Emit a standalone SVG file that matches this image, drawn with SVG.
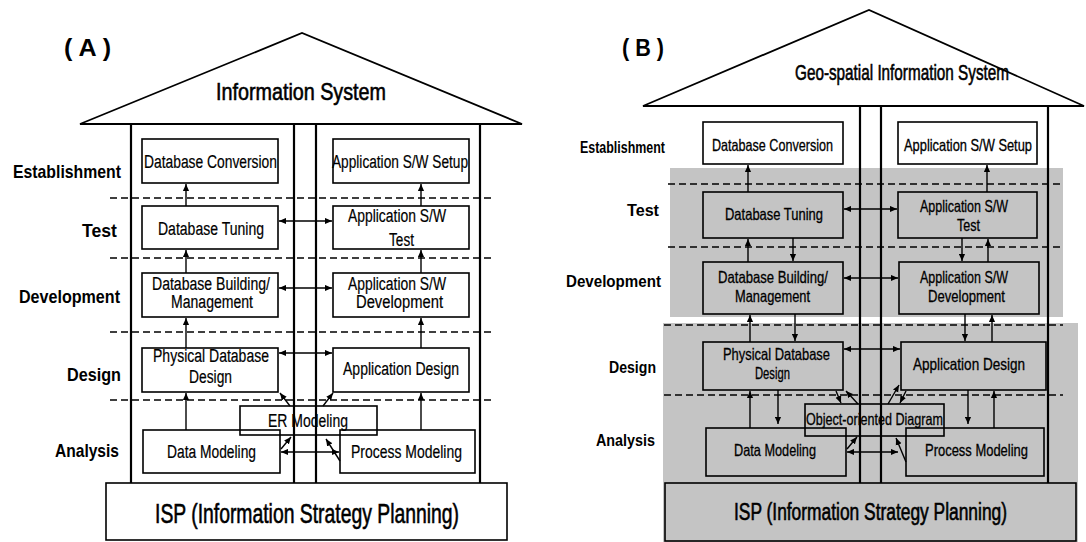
<svg xmlns="http://www.w3.org/2000/svg" width="1086" height="542" viewBox="0 0 1086 542">
  <defs>
    <marker id="ah" viewBox="0 0 8 8" refX="8" refY="4" markerWidth="7" markerHeight="7" orient="auto-start-reverse" markerUnits="userSpaceOnUse">
      <path d="M0,0.5 L8,4 L0,7.5 z" fill="#000"/>
    </marker>
  </defs>
  <style>
    .box{fill:none;stroke:#000;stroke-width:1.6}
    .wall{stroke:#000;stroke-width:2.2;fill:none}
    .roof{stroke:#000;stroke-width:1.8;fill:none;stroke-linejoin:miter}
    .dash{stroke:#000;stroke-width:1.3;stroke-dasharray:7 4;fill:none}
    .gray{fill:#c4c4c4}
    text{font-family:"Liberation Sans",Arial,Helvetica,sans-serif;fill:#000}
    .t{font-size:18px;stroke:#000;stroke-width:0.2}
    .tb{font-size:16.5px;stroke:#000;stroke-width:0.3}
    .lbl{font-weight:bold;font-size:19px}
    .lblb{font-weight:bold;font-size:16px}
    .head{font-weight:bold;font-size:24px}
    .title{font-size:24px;stroke:#000;stroke-width:0.6}
    .isp{font-size:28px;stroke:#000;stroke-width:0.6}
    .c{stroke:#000;stroke-width:1.4;fill:none}
    .one{marker-end:url(#ah)}
    .two{marker-start:url(#ah);marker-end:url(#ah)}
  </style>

  <rect width="1086" height="542" fill="#fff"/>

  <!-- ===================== Panel A ===================== -->
  <g id="a-frame">
    <text class="head" x="64" y="56" textLength="47" lengthAdjust="spacingAndGlyphs">( A )</text>
    <path class="roof" d="M80,124 L302,33 L522,124 Z"/>
    <text class="title" x="216" y="100" textLength="170" lengthAdjust="spacingAndGlyphs">Information System</text>
    <line class="wall" x1="131" y1="124" x2="131" y2="483"/>
    <line class="wall" x1="294" y1="124" x2="294" y2="483"/>
    <line class="wall" x1="316" y1="124" x2="316" y2="483"/>
    <line class="wall" x1="480" y1="124" x2="480" y2="483"/>
    <line class="dash" x1="110" y1="198" x2="492" y2="198"/>
    <line class="dash" x1="110" y1="258" x2="492" y2="258"/>
    <line class="dash" x1="110" y1="332" x2="492" y2="332"/>
    <line class="dash" x1="110" y1="400" x2="492" y2="400"/>
  </g>

  <g id="a-stages">
    <text class="lbl" x="13" y="178" textLength="108" lengthAdjust="spacingAndGlyphs">Establishment</text>
    <text class="lbl" x="82" y="237" textLength="35" lengthAdjust="spacingAndGlyphs">Test</text>
    <text class="lbl" x="19" y="303" textLength="101" lengthAdjust="spacingAndGlyphs">Development</text>
    <text class="lbl" x="67" y="381" textLength="54" lengthAdjust="spacingAndGlyphs">Design</text>
    <text class="lbl" x="55" y="457" textLength="64" lengthAdjust="spacingAndGlyphs">Analysis</text>
  </g>

  <g id="a-db-conversion">
    <rect class="box" x="142" y="139" width="136" height="44"/>
    <text class="t" x="144" y="168" textLength="133" lengthAdjust="spacingAndGlyphs">Database Conversion</text>
  </g>
  <g id="a-app-setup">
    <rect class="box" x="333" y="139" width="136" height="44"/>
    <text class="t" x="332" y="168" textLength="136" lengthAdjust="spacingAndGlyphs">Application S/W Setup</text>
  </g>
  <g id="a-db-tuning">
    <rect class="box" x="142" y="206" width="136" height="43"/>
    <text class="t" x="158" y="235" textLength="106" lengthAdjust="spacingAndGlyphs">Database Tuning</text>
  </g>
  <g id="a-app-test">
    <rect class="box" x="333" y="206" width="136" height="43"/>
    <text class="t" x="348" y="222" textLength="98" lengthAdjust="spacingAndGlyphs">Application S/W</text>
    <text class="t" x="389" y="246" textLength="25" lengthAdjust="spacingAndGlyphs">Test</text>
  </g>
  <g id="a-db-building">
    <rect class="box" x="142" y="273" width="136" height="44"/>
    <text class="t" x="152" y="290" textLength="118" lengthAdjust="spacingAndGlyphs">Database Building/</text>
    <text class="t" x="171" y="308" textLength="82" lengthAdjust="spacingAndGlyphs">Management</text>
  </g>
  <g id="a-app-dev">
    <rect class="box" x="333" y="273" width="136" height="44"/>
    <text class="t" x="348" y="290" textLength="98" lengthAdjust="spacingAndGlyphs">Application S/W</text>
    <text class="t" x="356" y="308" textLength="87" lengthAdjust="spacingAndGlyphs">Development</text>
  </g>
  <g id="a-physical-design">
    <rect class="box" x="142" y="348" width="136" height="44"/>
    <text class="t" x="153" y="362" textLength="116" lengthAdjust="spacingAndGlyphs">Physical Database</text>
    <text class="t" x="189" y="383" textLength="43" lengthAdjust="spacingAndGlyphs">Design</text>
  </g>
  <g id="a-app-design">
    <rect class="box" x="333" y="348" width="136" height="44"/>
    <text class="t" x="343" y="375" textLength="116" lengthAdjust="spacingAndGlyphs">Application Design</text>
  </g>
  <g id="a-er-modeling">
    <rect class="box" x="240" y="406" width="137" height="29"/>
    <text class="t" x="268" y="427" textLength="80" lengthAdjust="spacingAndGlyphs">ER Modeling</text>
  </g>
  <g id="a-data-modeling">
    <rect class="box" x="143" y="430" width="137" height="43"/>
    <text class="t" x="167" y="458" textLength="89" lengthAdjust="spacingAndGlyphs">Data Modeling</text>
  </g>
  <g id="a-process-modeling">
    <rect class="box" x="340" y="430" width="135" height="43"/>
    <text class="t" x="351" y="458" textLength="111" lengthAdjust="spacingAndGlyphs">Process Modeling</text>
  </g>
  <g id="a-isp">
    <rect class="box" x="106" y="483" width="401" height="57" fill="#fff"/>
    <text class="isp" x="155" y="523" textLength="304" lengthAdjust="spacingAndGlyphs">ISP (Information Strategy Planning)</text>
  </g>

  <g id="a-connectors">
    <line class="c one" x1="186" y1="206" x2="186" y2="184"/>
    <line class="c one" x1="421" y1="206" x2="421" y2="184"/>
    <line class="c one" x1="186" y1="273" x2="186" y2="250"/>
    <line class="c one" x1="421" y1="273" x2="421" y2="250"/>
    <line class="c one" x1="186" y1="348" x2="186" y2="318"/>
    <line class="c one" x1="421" y1="348" x2="421" y2="318"/>
    <line class="c one" x1="186" y1="430" x2="186" y2="393"/>
    <line class="c one" x1="421" y1="430" x2="421" y2="393"/>
    <line class="c two" x1="279" y1="221" x2="332" y2="221"/>
    <line class="c two" x1="279" y1="288" x2="332" y2="288"/>
    <line class="c two" x1="279" y1="353" x2="332" y2="353"/>
    <line class="c two" x1="281" y1="452" x2="339" y2="452"/>
    <line class="c one" x1="290" y1="406" x2="280" y2="393"/>
    <line class="c one" x1="323" y1="406" x2="333" y2="393"/>
    <line class="c one" x1="281" y1="449" x2="291" y2="437"/>
    <line class="c one" x1="340" y1="461" x2="326" y2="439"/>
  </g>

  <!-- ===================== Panel B ===================== -->
  <g id="b-frame">
    <rect class="gray" x="670" y="168" width="393" height="149"/>
    <rect class="gray" x="663" y="323" width="415" height="219"/>
    <text class="head" x="622" y="56" textLength="42" lengthAdjust="spacingAndGlyphs">( B )</text>
    <path class="roof" d="M643,106 L869,10 L1084,106 Z"/>
    <text class="title" x="795" y="80" textLength="214" lengthAdjust="spacingAndGlyphs" style="font-size:22px">Geo-spatial Information System</text>
    <line class="wall" x1="860" y1="106" x2="860" y2="483"/>
    <line class="wall" x1="881" y1="106" x2="881" y2="483"/>
    <line class="wall" x1="1048" y1="106" x2="1048" y2="483"/>
    <line class="dash" x1="668" y1="184" x2="1063" y2="184"/>
    <line class="dash" x1="668" y1="247" x2="1063" y2="247"/>
    <line class="dash" x1="664" y1="325" x2="1063" y2="325"/>
    <line class="dash" x1="664" y1="395" x2="1063" y2="395"/>
  </g>

  <g id="b-stages">
    <text class="lblb" x="580" y="153" textLength="85" lengthAdjust="spacingAndGlyphs">Establishment</text>
    <text class="lblb" x="627" y="216" textLength="32" lengthAdjust="spacingAndGlyphs">Test</text>
    <text class="lblb" x="566" y="287" textLength="95" lengthAdjust="spacingAndGlyphs">Development</text>
    <text class="lblb" x="609" y="373" textLength="47" lengthAdjust="spacingAndGlyphs">Design</text>
    <text class="lblb" x="596" y="446" textLength="59" lengthAdjust="spacingAndGlyphs">Analysis</text>
  </g>

  <g id="b-db-conversion">
    <rect class="box" x="703" y="122" width="140" height="42" fill="#fff"/>
    <text class="tb" x="712" y="151" textLength="121" lengthAdjust="spacingAndGlyphs">Database Conversion</text>
  </g>
  <g id="b-app-setup">
    <rect class="box" x="898" y="122" width="139" height="42" fill="#fff"/>
    <text class="tb" x="904" y="151" textLength="128" lengthAdjust="spacingAndGlyphs">Application S/W Setup</text>
  </g>
  <g id="b-db-tuning">
    <rect class="box" x="703" y="192" width="140" height="46"/>
    <text class="tb" x="725" y="220" textLength="98" lengthAdjust="spacingAndGlyphs">Database Tuning</text>
  </g>
  <g id="b-app-test">
    <rect class="box" x="898" y="192" width="139" height="46"/>
    <text class="tb" x="920" y="212" textLength="88" lengthAdjust="spacingAndGlyphs">Application S/W</text>
    <text class="tb" x="957" y="231" textLength="23" lengthAdjust="spacingAndGlyphs">Test</text>
  </g>
  <g id="b-db-building">
    <rect class="box" x="703" y="262" width="140" height="52"/>
    <text class="tb" x="718" y="283" textLength="110" lengthAdjust="spacingAndGlyphs">Database Building/</text>
    <text class="tb" x="735" y="302" textLength="75" lengthAdjust="spacingAndGlyphs">Management</text>
  </g>
  <g id="b-app-dev">
    <rect class="box" x="899" y="262" width="140" height="52"/>
    <text class="tb" x="920" y="283" textLength="88" lengthAdjust="spacingAndGlyphs">Application S/W</text>
    <text class="tb" x="928" y="302" textLength="77" lengthAdjust="spacingAndGlyphs">Development</text>
  </g>
  <g id="b-physical-design">
    <rect class="box" x="703" y="342" width="140" height="48"/>
    <text class="tb" x="723" y="360" textLength="107" lengthAdjust="spacingAndGlyphs">Physical Database</text>
    <text class="tb" x="755" y="379" textLength="35" lengthAdjust="spacingAndGlyphs">Design</text>
  </g>
  <g id="b-app-design">
    <rect class="box" x="901" y="342" width="145" height="48"/>
    <text class="tb" x="913" y="370" textLength="112" lengthAdjust="spacingAndGlyphs">Application Design</text>
  </g>
  <g id="b-object-diagram">
    <rect class="box" x="805" y="404" width="139" height="32"/>
    <text class="tb" x="806" y="425" textLength="137" lengthAdjust="spacingAndGlyphs">Object-oriented  Diagram</text>
  </g>
  <g id="b-data-modeling">
    <rect class="box" x="706" y="428" width="140" height="48"/>
    <text class="tb" x="734" y="456" textLength="82" lengthAdjust="spacingAndGlyphs">Data Modeling</text>
  </g>
  <g id="b-process-modeling">
    <rect class="box" x="906" y="428" width="138" height="48"/>
    <text class="tb" x="925" y="456" textLength="103" lengthAdjust="spacingAndGlyphs">Process Modeling</text>
  </g>
  <g id="b-isp">
    <rect class="box" x="665" y="483" width="411" height="58"/>
    <text class="isp" x="734" y="520" textLength="273" lengthAdjust="spacingAndGlyphs" style="font-size:23px">ISP (Information Strategy Planning)</text>
  </g>

  <g id="b-connectors">
    <line class="c one" x1="748" y1="192" x2="748" y2="165"/>
    <line class="c one" x1="987" y1="192" x2="987" y2="165"/>
    <line class="c one" x1="748" y1="262" x2="748" y2="239"/>
    <line class="c one" x1="793" y1="238" x2="793" y2="261"/>
    <line class="c one" x1="962" y1="238" x2="962" y2="261"/>
    <line class="c one" x1="988" y1="262" x2="988" y2="239"/>
    <line class="c one" x1="750" y1="342" x2="750" y2="315"/>
    <line class="c one" x1="795" y1="314" x2="795" y2="341"/>
    <line class="c one" x1="965" y1="314" x2="965" y2="341"/>
    <line class="c one" x1="992" y1="342" x2="992" y2="315"/>
    <line class="c one" x1="750" y1="428" x2="750" y2="391"/>
    <line class="c one" x1="778" y1="390" x2="778" y2="424"/>
    <line class="c one" x1="968" y1="390" x2="968" y2="424"/>
    <line class="c one" x1="994" y1="428" x2="994" y2="391"/>
    <line class="c two" x1="844" y1="209" x2="897" y2="209"/>
    <line class="c two" x1="844" y1="278" x2="898" y2="278"/>
    <line class="c two" x1="844" y1="349" x2="900" y2="349"/>
    <line class="c two" x1="847" y1="452" x2="898" y2="452"/>
    <line class="c one" x1="858" y1="404" x2="846" y2="391"/>
    <line class="c one" x1="836" y1="391" x2="841" y2="403"/>
    <line class="c one" x1="888" y1="404" x2="899" y2="385"/>
    <line class="c one" x1="906" y1="391" x2="900" y2="403"/>
    <line class="c one" x1="847" y1="449" x2="857" y2="437"/>
    <line class="c one" x1="906" y1="462" x2="896" y2="438"/>
  </g>
</svg>
